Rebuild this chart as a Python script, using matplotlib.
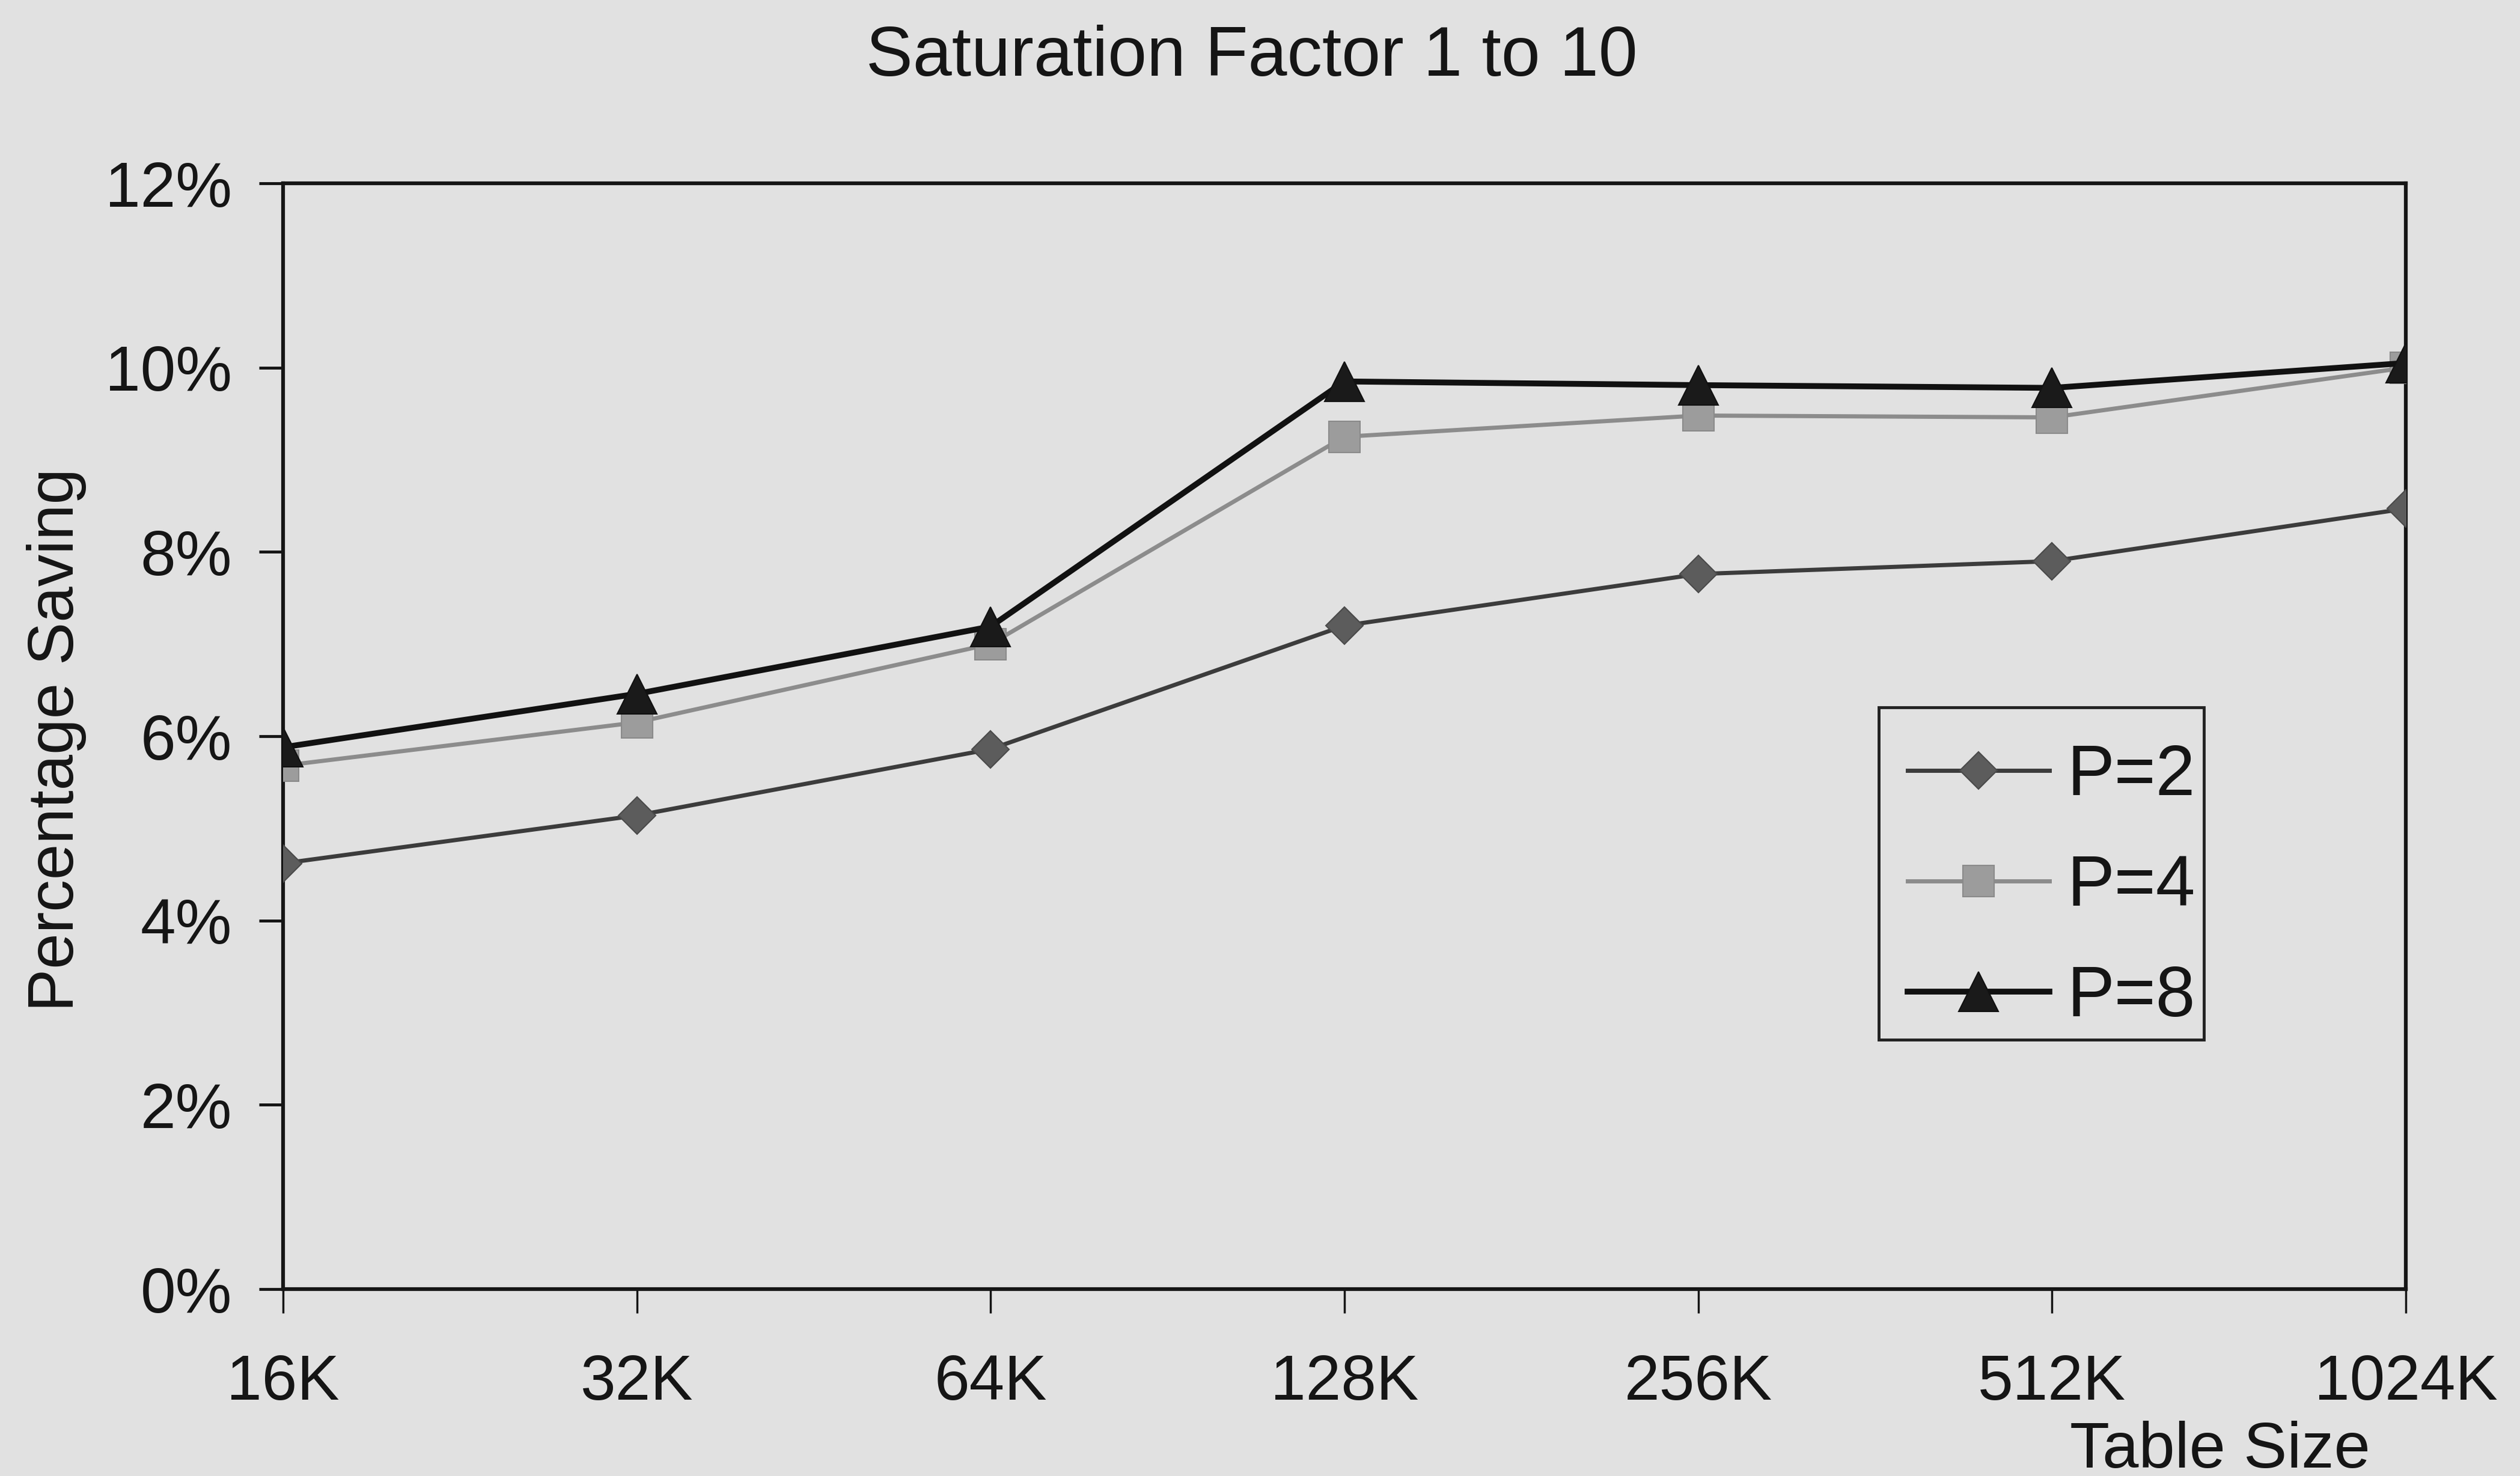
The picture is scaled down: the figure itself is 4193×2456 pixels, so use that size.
import matplotlib
matplotlib.use("Agg")
import matplotlib.pyplot as plt
from matplotlib.patches import Rectangle
from matplotlib.ticker import FuncFormatter

plt.rcParams['font.family'] = ['Liberation Sans', 'DejaVu Sans']

# Table sizes on the x axis
table_sizes = ["16K", "32K", "64K", "128K", "256K", "512K", "1024K"]

# Percentage saving for each number of probes
p2_saving = [4.62, 5.14, 5.86, 7.20, 7.76, 7.90, 8.47]
p4_saving = [5.68, 6.15, 7.00, 9.25, 9.48, 9.46, 10.00]
p8_saving = [5.88, 6.46, 7.19, 9.85, 9.81, 9.78, 10.05]

series_labels = ["P=2", "P=4", "P=8"]
y_ticks = [0, 2, 4, 6, 8, 10, 12]

bg = "#e1e1e1"

fig = plt.figure(figsize=(41.93, 24.56), dpi=100, facecolor=bg)
ax = fig.add_axes([0.1123, 0.1266, 0.9547 - 0.1123, 0.8758 - 0.1266])
ax.set_facecolor(bg)

x = list(range(len(table_sizes)))

ax.plot(x, p2_saving, color="#3c3c3c", lw=5.0, marker="D", ms=32,
        mfc="#5c5c5c", mec="#4a4a4a", mew=1.5, label=series_labels[0], zorder=3)
ax.plot(x, p4_saving, color="#8c8c8c", lw=5.0, marker="s", ms=38,
        mfc="#9c9c9c", mec="#8a8a8a", mew=1.5, label=series_labels[1], zorder=4)
ax.plot(x, p8_saving, color="#111111", lw=7.0, marker="^", ms=48,
        mfc="#1a1a1a", mec="#111111", mew=1.5, label=series_labels[2], zorder=5)

ax.set_xlim(0, len(table_sizes) - 1)
ax.set_ylim(0, 12)
ax.set_xticks(x)
ax.set_xticklabels(table_sizes)
ax.set_yticks(y_ticks)
ax.yaxis.set_major_formatter(FuncFormatter(lambda v, _: f"{v:.0f}%"))

for side in ["left", "right", "top", "bottom"]:
    ax.spines[side].set_linewidth(4.5)
    ax.spines[side].set_color("#151515")

ax.tick_params(axis="x", direction="out", length=29, width=2.5, pad=48,
               labelsize=76, colors="#151515")
ax.tick_params(axis="y", direction="out", length=29, width=3.5, pad=32,
               labelsize=76, colors="#151515")
for lbl in ax.get_xticklabels() + ax.get_yticklabels():
    lbl.set_color("#151515")

fig.text(0.4968, 0.961, "Saturation Factor 1 to 10", ha="center", va="center",
         fontsize=84, color="#151515")
fig.text(0.0224, 0.499, "Percentage Saving", rotation=90, ha="center",
         va="center", fontsize=77, color="#151515")
fig.text(0.9405, 0.017, "Table Size", ha="right", va="center",
         fontsize=78, color="#151515")

# Legend entries without their own frame; a plain box is drawn around them
leg = ax.legend(loc="upper left", bbox_to_anchor=(0.7570, 0.4963),
                bbox_transform=fig.transFigure, borderaxespad=0,
                fontsize=85, handlelength=2.0, handletextpad=0.25,
                labelspacing=0.62, borderpad=0.0, frameon=False)
for t in leg.get_texts():
    t.set_color("#151515")

fig.add_artist(Rectangle((0.7455, 0.2956), 0.1290, 0.2252,
                         transform=fig.transFigure, facecolor="none",
                         edgecolor="#222222", linewidth=3.5, zorder=6))

fig.savefig("out.png", dpi=100, facecolor=bg)
